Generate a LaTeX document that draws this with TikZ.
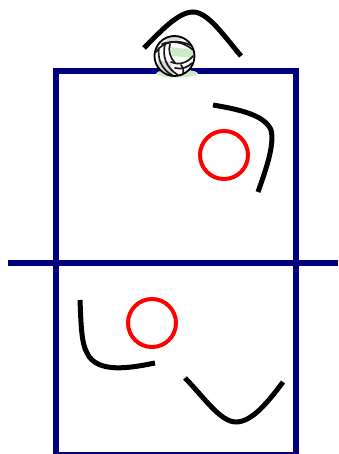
\documentclass[tikz,border=0pt]{standalone}
\definecolor{courtblue}{RGB}{0,0,128}
\definecolor{ballshade}{RGB}{205,235,200}
\tikzset{
 px/.style={x=1pt,y=-1pt},
 court/.style={draw=courtblue,line width=6pt},
 netline/.style={draw=courtblue,line width=6pt},
 runpath/.style={draw=black,line width=5pt},
 playerring/.style={circle,draw=red,line width=4pt,minimum size=48pt,inner sep=0pt,fill=none},
 seam/.style={draw=black!90,line width=1.7pt,line cap=round}
}
\begin{document}
\begin{tikzpicture}[px]
\useasboundingbox (0,0) rectangle (338,454);
\begin{scope}
\clip (0,0) rectangle (338,454);
\draw[court] (55.5,455) -- (55.5,71) -- (295.5,71) -- (295.5,455) -- cycle;
\draw[netline] (8,263) -- (338,263);
\end{scope}
\node[playerring] (p1) at (224,155) {};
\node[playerring] (p2) at (152,323) {};
\draw[runpath] (144,48) .. controls (160,32) and (178,12) .. (193,12) .. controls (208,12) and (224,36) .. (241,56);
\draw[runpath] (213,105) .. controls (243,110) and (265,116) .. (271,130) .. controls (275,145) and (265,172) .. (258,192);
\draw[runpath] (80,300) .. controls (81,322) and (81,342) .. (87,353) .. controls (97,374) and (130,368) .. (155,363);
\draw[runpath] (185,378) .. controls (203,396) and (220,422) .. (236,422) .. controls (252,422) and (268,402) .. (283,382);
% ball
\fill[ballshade] (177,73.5) ellipse (21 and 4);
\fill[courtblue] (198,68) rectangle (208,74);
\fill[white] (174.5,56) circle (20);
\begin{scope}
\clip (174.5,56) circle (20);
\fill[ballshade] (171,47) -- (194,50) -- (194,58) -- (172,56) -- cycle;
\fill[black!15] (162,37) -- (188,37) -- (172,43) -- cycle;
\fill[black!15] (158,60) -- (170,62) -- (174,76) -- (158,70) -- cycle;
\draw[seam] (156,52) .. controls (162,42) and (178,38) .. (192,46);
\draw[seam] (162,44) .. controls (172,40) and (184,42) .. (193,50);
\draw[seam] (170,44) .. controls (168,50) and (170,58) .. (175,63);
\draw[seam] (159,48) .. controls (157,58) and (162,70) .. (172,75);
\draw[seam] (165,44) .. controls (162,56) and (166,68) .. (178,75);
\draw[seam] (171,62) .. controls (180,66) and (188,62) .. (193,56);
\draw[seam] (175,68) .. controls (182,70) and (188,67) .. (192,63);
\draw[seam] (181,65) .. controls (184,68) and (184,72) .. (182,76);
\end{scope}
\draw[black,line width=1.8pt] (174.5,56) circle (20);
\end{tikzpicture}
\end{document}
